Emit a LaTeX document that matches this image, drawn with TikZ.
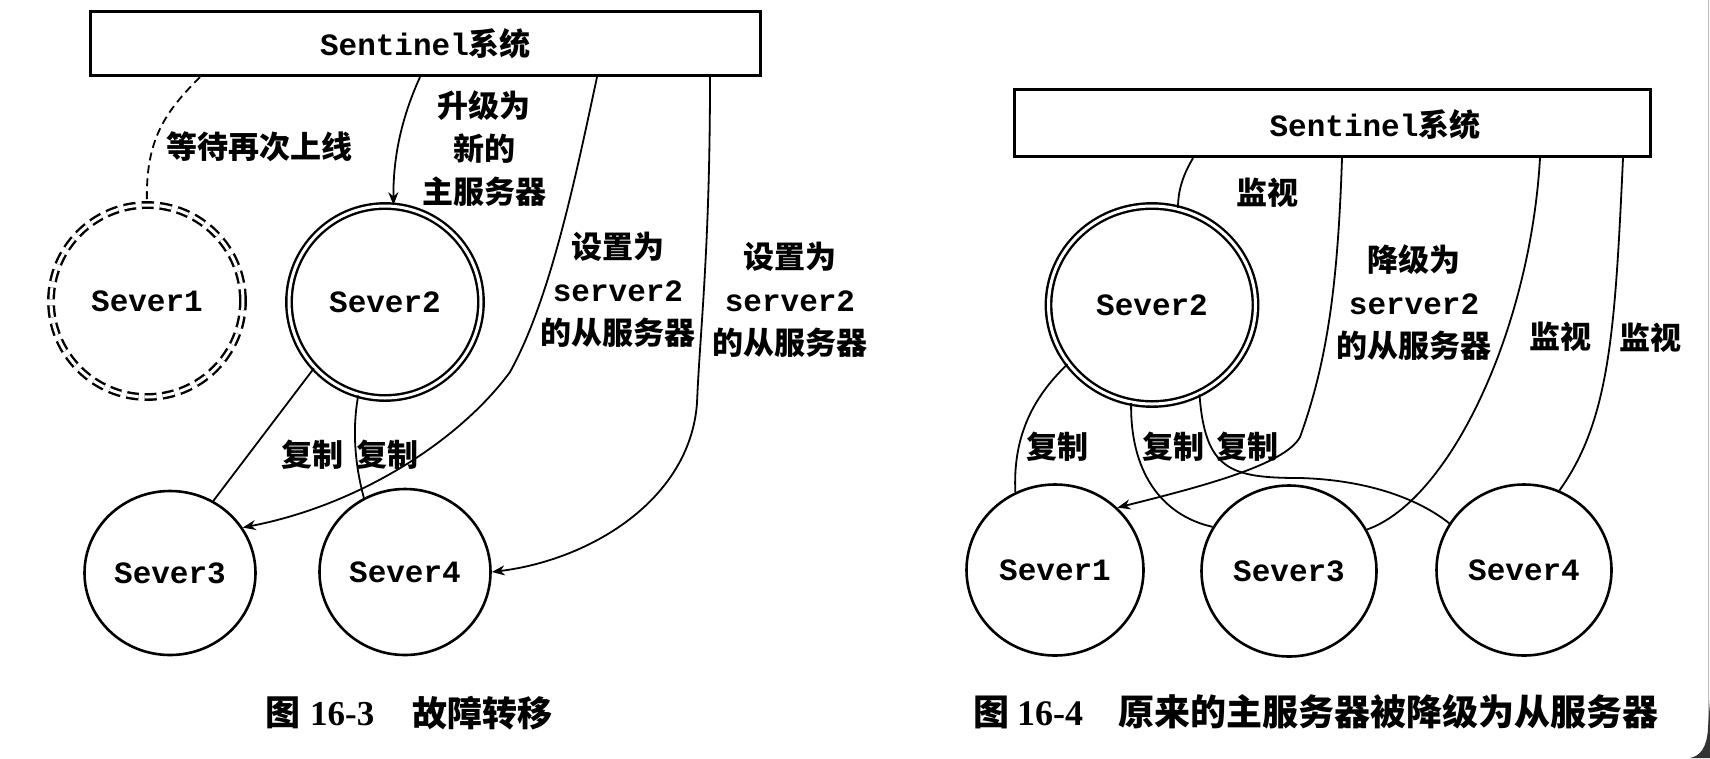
\documentclass[tikz,border=0pt]{standalone}
\usepackage{fontspec}
\usetikzlibrary{shapes.geometric,arrows.meta,calc}
\newfontfamily\cjk{Noto Sans CJK SC}
\newfontfamily\monof{Liberation Mono}
\newfontfamily\digf{Liberation Serif}
\newcommand\cjkb{\cjk\bfseries}
\begin{document}
\begin{tikzpicture}[x=1pt,y=-1pt,
  srv/.style={ellipse, draw, line width=2.6pt, inner sep=0pt, font=\monof\bfseries\fontsize{31}{31}\selectfont},
  master/.style={srv, double, double distance=3pt, line width=2.4pt},
  dbox/.style={draw, line width=3.2pt, rectangle, inner sep=0pt},
  conn/.style={line width=1.8pt},
  arr/.style={conn, -{Stealth[length=13pt,width=10pt]}},
  lab/.style={inner sep=0pt, align=center, font=\cjkb\fontsize{31}{43}\selectfont},
  capl/.style={inner sep=0pt, anchor=west, font=\cjkb\fontsize{35}{35}\selectfont},
  capr/.style={inner sep=0pt, anchor=west, font=\cjkb\fontsize{36}{36}\selectfont},
]
\useasboundingbox (0,0) rectangle (1710,758);
\fill[white] (0,0) rectangle (1710,758);

% ---------- left figure ----------
\node[dbox, minimum width=670pt, minimum height=64pt,
      font=\fontsize{31}{31}\selectfont] (sentL) at (425.5,43.5)
      {{\monof\bfseries Sentinel}{\cjkb 系统}};
\node[master, dash pattern=on 12pt off 6pt, minimum width=192pt, minimum height=192pt] (S1L) at (147,301) {Sever1};
\node[master, minimum width=192pt, minimum height=192pt] (S2L) at (385,302) {Sever2};
\node[srv, minimum width=171pt, minimum height=164pt] (S3L) at (170,573) {Sever3};
\node[srv, minimum width=171pt, minimum height=166pt] (S4L) at (405,572) {Sever4};

\draw[conn, dash pattern=on 8pt off 5pt] ([xshift=-225.5pt]sentL.south) .. controls (165,112) and (145,140) .. (S1L.north);
\draw[arr] ([xshift=-5.5pt]sentL.south) .. controls (405,110) and (393,150) .. (S2L.85);
\draw[arr] ([xshift=171.5pt]sentL.south) .. controls (575,180) and (550,300) .. (510,372)
           .. controls (460,440) and (360,505) .. (S3L.32);
\draw[arr] ([xshift=284.5pt]sentL.south) .. controls (710,250) and (700,330) .. (697,403)
           .. controls (690,500) and (590,560) .. (S4L.east);
\draw[conn] (S2L.223) -- (S3L.59);
\draw[conn] (S2L.254) .. controls (352,430) and (355,465) .. (S4L.119);

\node[lab] (l1) at (259,147) {等待再次上线};
\node[lab] (l2) at (484,149) {升级为\\新的\\主服务器};
\node[lab] (l3) at (618,290) {设置为\\{\monof server2}\\的从服务器};
\node[lab] (l4) at (790,300) {设置为\\{\monof server2}\\的从服务器};
\node[lab] (l5) at (312,455) {复制};
\node[lab] (l6) at (387,455) {复制};

\node[capl] (c1) at (265,713) {图\hspace{10pt}{\digf\bfseries 16-3}};
\node[capl] (c2) at (412,713) {故障转移};

% ---------- right figure ----------
\node[dbox, minimum width=636pt, minimum height=67pt] (sentR) at (1332.5,123) {};
\node[inner sep=0pt, font=\fontsize{31}{31}\selectfont] (tR) at (1375,125) {{\monof\bfseries Sentinel}{\cjkb 系统}};
\node[master, minimum width=207pt, minimum height=198pt] (S2R) at (1152,305) {Sever2};
\node[srv, minimum width=177pt, minimum height=171pt] (S1R) at (1055,570) {Sever1};
\node[srv, minimum width=175pt, minimum height=171pt] (S3R) at (1289,571) {Sever3};
\node[srv, minimum width=175pt, minimum height=171pt] (S4R) at (1524,570) {Sever4};

\draw[conn] ([xshift=-139.5pt]sentR.south) .. controls (1183,175) and (1178,190) .. (S2R.75);
\draw[arr] ([xshift=9.5pt]sentR.south) .. controls (1338,280) and (1328,360) .. (1300,437)
           .. controls (1285,465) and (1200,487) .. (S1R.45);
\draw[conn] ([xshift=207.5pt]sentR.south) .. controls (1530,330) and (1450,500) .. (S3R.28);
\draw[conn] ([xshift=290.5pt]sentR.south) .. controls (1615,330) and (1610,420) .. (S4R.66);
\draw[conn] (S2R.215) .. controls (1030,400) and (1013,440) .. (S1R.117);
\draw[conn] (S2R.258) .. controls (1130,470) and (1160,515) .. (S3R.150);
\draw[conn] (S2R.298) .. controls (1205,470) and (1230,478) .. (1300,478)
            .. controls (1370,480) and (1420,500) .. (S4R.148);

\node[lab] (r1) at (1267,193) {监视};
\node[lab] (r2) at (1414,303) {降级为\\{\monof server2}\\的从服务器};
\node[lab] (r3) at (1560,337) {监视};
\node[lab] (r4) at (1650,338) {监视};
\node[lab] (r5) at (1057,447) {复制};
\node[lab] (r6) at (1173,447) {复制};
\node[lab] (r7) at (1247,447) {复制};

\node[capr] (c3) at (973,712) {图\hspace{8pt}{\digf\bfseries 16-4}};
\node[capr] (c4) at (1118,712) {原来的主服务器被降级为从服务器};

% screenshot edge
\draw[gray!55, line width=1pt] (1708,0) -- (1708,728);
\fill[black!80] (1710,700) -- (1708,728) .. controls (1707,748) and (1700,756) .. (1690,758) -- (1710,758) -- cycle;
\end{tikzpicture}
\end{document}
